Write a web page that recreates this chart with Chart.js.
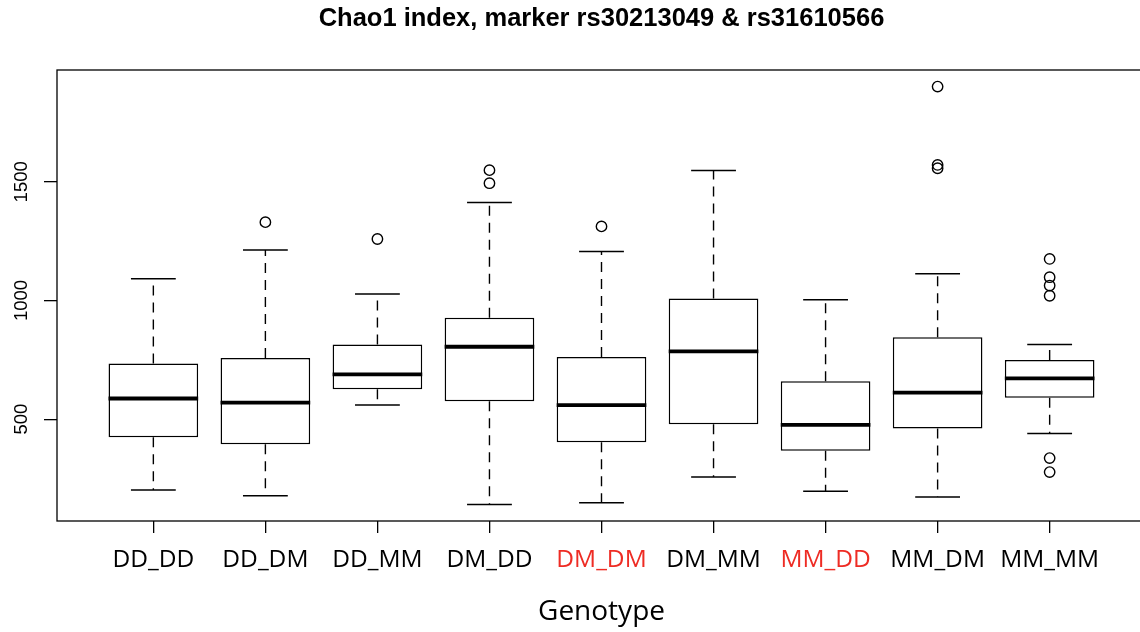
<!DOCTYPE html>
<html>
<head>
<meta charset="utf-8">
<title>Chao1 index</title>
<script src="https://cdn.jsdelivr.net/npm/chart.js@4.4.0/dist/chart.umd.min.js"></script>
<style>
  html, body { margin: 0; padding: 0; background: #fff; overflow: hidden; }
  #wrap { width: 1160px; height: 632px; }
</style>
</head>
<body>
<div id="wrap"><canvas id="myChart" width="1160" height="632"></canvas></div>
<script>
// genotypes (x axis), the red ones are highlighted
const genotypes = ['DD_DD', 'DD_DM', 'DD_MM', 'DM_DD', 'DM_DM', 'DM_MM', 'MM_DD', 'MM_DM', 'MM_MM'];
const highlighted = ['DM_DM', 'MM_DD'];

// five number summary
const lowWhisker = [202, 177, 560, 141, 148, 256, 196, 172, 440];
const lowerQuartile = [424, 394, 626, 576, 403, 479, 367, 461, 590];
const medians = [587, 570, 689, 805, 559, 786, 476, 612, 672];
const upperQuartile = [735, 758, 815, 927, 762, 1008, 660, 845, 749];
const highWhisker = [1092, 1213, 1027, 1413, 1206, 1548, 1003, 1113, 815];
const outliers = [[], [1330], [1259], [1549, 1494], [1312], [], [], [1901, 1571, 1557], [1175, 1098, 1063, 1020, 336, 277]];

const yTicks = [500, 1000, 1500];

const red = '#ee2c24';
const boxHalf = 0.4;   // boxwex 0.8
const capHalf = 0.2;   // staplewex 0.5

let boxData = [];
let medianData = [];
let whiskerData = [];
let capData = [];
let outlierData = [];

for (let i = 0; i < genotypes.length; i++) {
    let x = i + 1;
    boxData.push({ x: x, y: [lowerQuartile[i], upperQuartile[i]] });
    medianData.push({ x: x - boxHalf, y: medians[i] }, { x: x + boxHalf, y: medians[i] }, { x: x + boxHalf, y: null });
    // whiskers start at the box and go out
    whiskerData.push({ x: x, y: upperQuartile[i] }, { x: x, y: highWhisker[i] }, { x: x, y: null });
    whiskerData.push({ x: x, y: lowerQuartile[i] }, { x: x, y: lowWhisker[i] }, { x: x, y: null });
    capData.push({ x: x - capHalf, y: highWhisker[i] }, { x: x + capHalf, y: highWhisker[i] }, { x: x + capHalf, y: null });
    capData.push({ x: x - capHalf, y: lowWhisker[i] }, { x: x + capHalf, y: lowWhisker[i] }, { x: x + capHalf, y: null });
    for (let j = 0; j < outliers[i].length; j++) {
        outlierData.push({ x: x, y: outliers[i][j] });
    }
}

// frame round the plot and the rotated y labels (like R)
const frameAndLabels = {
    id: 'frameAndLabels',
    afterDraw(chart) {
        const { ctx, chartArea, scales } = chart;
        ctx.save();
        ctx.strokeStyle = '#000';
        ctx.lineWidth = 1.3;
        ctx.strokeRect(chartArea.left, chartArea.top, chartArea.right - chartArea.left, chartArea.bottom - chartArea.top);
        ctx.fillStyle = '#000';
        ctx.font = '18.5px "Liberation Sans", Arial, sans-serif';
        ctx.textAlign = 'center';
        ctx.textBaseline = 'alphabetic';
        yTicks.forEach(v => {
            const py = scales.y.getPixelForValue(v);
            ctx.save();
            ctx.translate(26.5, py);
            ctx.rotate(-Math.PI / 2);
            ctx.fillText(String(v), 0, 0);
            ctx.restore();
        });
        ctx.restore();
    }
};

const lineBase = {
    type: 'line',
    pointRadius: 0,
    pointHoverRadius: 0,
    spanGaps: false,
    fill: false,
    tension: 0,
    borderColor: '#000',
};

const chart = new Chart(document.getElementById('myChart'), {
    type: 'bar',
    data: {
        datasets: [
            Object.assign({}, lineBase, { label: 'median', data: medianData, borderWidth: 3.8, order: 0 }),
            {
                type: 'scatter',
                label: 'outliers',
                data: outlierData,
                pointStyle: 'circle',
                pointRadius: 5.2,
                pointBorderWidth: 1.4,
                pointBorderColor: '#000',
                pointBackgroundColor: 'rgba(0,0,0,0)',
                order: 1,
            },
            {
                type: 'bar',
                label: 'box',
                data: boxData,
                backgroundColor: '#fff',
                borderColor: '#000',
                borderWidth: 1.5,
                borderSkipped: false,
                categoryPercentage: 1,
                barPercentage: 0.8,
                order: 2,
            },
            Object.assign({}, lineBase, { label: 'caps', data: capData, borderWidth: 1.5, order: 3 }),
            Object.assign({}, lineBase, { label: 'whiskers', data: whiskerData, borderWidth: 1.4, borderDash: [10, 7], order: 4 }),
        ]
    },
    options: {
        responsive: false,
        animation: false,
        layout: { padding: { left: 0, right: 14, top: 0, bottom: 0 } },
        scales: {
            x: {
                type: 'linear',
                min: 0.14,
                max: 9.86,
                offset: false,
                afterBuildTicks: (s) => { s.ticks = genotypes.map((g, i) => ({ value: i + 1 })); },
                afterFit: (s) => { s.height = 111; },
                grid: { display: true, drawOnChartArea: false, drawTicks: true, tickLength: 12, color: '#000', lineWidth: 1.3, offset: false },
                border: { display: false },
                ticks: {
                    autoSkip: false,
                    maxRotation: 0,
                    minRotation: 0,
                    padding: 15,
                    font: { family: 'Open Sans', size: 24.5, lineHeight: 1 },
                    color: (ctx) => highlighted.includes(genotypes[ctx.tick.value - 1]) ? red : '#000',
                    callback: (value) => genotypes[value - 1],
                },
                title: {
                    display: true,
                    text: 'Genotype',
                    color: '#000',
                    font: { family: 'Open Sans', size: 28, lineHeight: 1 },
                    padding: { top: 0, bottom: 6 },
                },
            },
            y: {
                type: 'linear',
                min: 71,
                max: 1971,
                beginAtZero: false,
                afterBuildTicks: (s) => { s.ticks = yTicks.map(v => ({ value: v })); },
                afterFit: (s) => { s.width = 57; },
                grid: { display: true, drawOnChartArea: false, drawTicks: true, tickLength: 13, color: '#000', lineWidth: 1.3 },
                border: { display: false },
                ticks: { display: false },
            },
        },
        plugins: {
            legend: { display: false },
            tooltip: { enabled: false },
            title: {
                display: true,
                fullSize: false,
                text: 'Chao1 index, marker rs30213049 & rs31610566',
                color: '#000',
                font: { family: 'Liberation Sans', size: 25.5, weight: 'bold', lineHeight: 1 },
                padding: { top: 6, bottom: 38.5 },
            },
        },
    },
    plugins: [frameAndLabels],
});
</script>
</body>
</html>
